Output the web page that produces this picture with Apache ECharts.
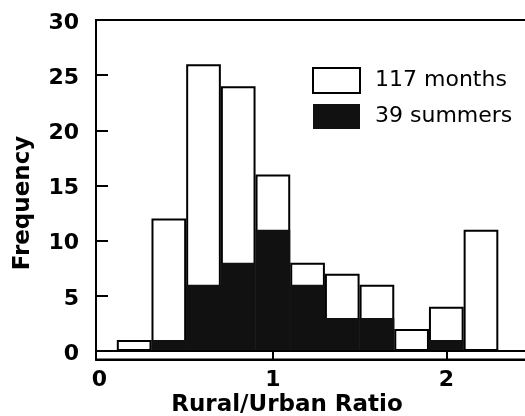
<!DOCTYPE html>
<html><head><meta charset="utf-8">
<script src="https://cdn.jsdelivr.net/npm/echarts@6/dist/echarts.min.js"></script>
<style>html,body{margin:0;padding:0;background:#fff}#c{width:525px;height:416px}</style>
</head><body><div id="c"></div>
<script>
// ---- data ----
const binCenters = [0.2, 0.4, 0.6, 0.8, 1.0, 1.2, 1.4, 1.6, 1.8, 2.0, 2.2];
const binWidth = 0.2;
const months = [1, 12, 26, 24, 16, 8, 7, 6, 2, 4, 11];
const summers = [0, 1, 6, 8, 11, 6, 3, 3, 0, 1, 0];
const seriesNames = ['117 months', '39 summers'];
const yLabelValues = [0, 5, 10, 15, 20, 25, 30];
const yTickValues = [5, 10, 15, 20, 25];
const xLabelValues = [0, 1, 2];
const xTickValues = [1, 2];
const xTitle = 'Rural/Urban Ratio';
const yTitle = 'Frequency';

const FONT = 'DejaVu Sans';
const chart = echarts.init(document.getElementById('c'), null, {renderer: 'canvas'});

function pairs(vals) { return binCenters.map((c, i) => [c, vals[i]]); }

function buildOption(barW) {
  return {
    animation: false,
    backgroundColor: '#fff',
    grid: {left: 96, top: 20, width: 437, height: 339.5, show: true,
           outerBoundsMode: 'none', containLabel: false,
           borderColor: '#000', borderWidth: 2, backgroundColor: 'transparent'},
    legend: {
      orient: 'vertical', left: 312, top: 67, padding: 0,
      itemWidth: 47, itemHeight: 25, itemGap: 10, icon: 'rect',
      textStyle: {fontFamily: FONT, fontSize: 22, color: '#000', padding: [0, 0, 0, 10]},
      data: [
        {name: seriesNames[0], itemStyle: {color: '#fff', borderColor: '#000', borderWidth: 2}},
        {name: seriesNames[1], itemStyle: {color: '#111', borderColor: '#111', borderWidth: 0}}
      ]
    },
    xAxis: {
      type: 'value', min: -0.02, max: 2.5,
      splitLine: {show: false},
      axisLine: {show: true, onZero: false, lineStyle: {color: '#000', width: 2}},
      axisTick: {show: true, inside: true, length: 8, customValues: xTickValues,
                 lineStyle: {color: '#000', width: 2}},
      axisLabel: {customValues: xLabelValues, fontFamily: FONT, fontWeight: 'bold',
                  fontSize: 22, color: '#000', margin: 10}
    },
    yAxis: {
      type: 'value', min: -0.77, max: 30,
      splitLine: {show: false},
      axisLine: {show: true, onZero: false, lineStyle: {color: '#000', width: 2}},
      axisTick: {show: true, inside: true, length: 12, customValues: yTickValues,
                 lineStyle: {color: '#000', width: 2}},
      axisLabel: {customValues: yLabelValues, color: '#000', margin: 17,
                  formatter: '{v|{value}}',
                  rich: {v: {fontFamily: FONT, fontWeight: 'bold', fontSize: 22,
                             color: '#000', padding: [6, 0, 0, 0]}}}
    },
    graphic: [
      {type: 'text', x: 287, y: 405, silent: true,
       style: {text: xTitle, fontFamily: FONT, fontWeight: 'bold', fontSize: 23,
               fill: '#000', align: 'center', verticalAlign: 'middle'}},
      {type: 'text', x: 23, y: 203, rotation: Math.PI / 2, silent: true,
       style: {text: yTitle, fontFamily: FONT, fontWeight: 'bold', fontSize: 23,
               fill: '#000', align: 'center', verticalAlign: 'middle'}}
    ],
    series: [
      {
        name: seriesNames[0], type: 'bar', data: pairs(months),
        barWidth: barW, barGap: '-100%',
        itemStyle: {color: '#fff', borderColor: '#000', borderWidth: 2},
        markLine: {silent: true, symbol: 'none', label: {show: false},
                   lineStyle: {color: '#000', width: 2, type: 'solid'},
                   data: [{yAxis: 0}]}
      },
      {
        name: seriesNames[1], type: 'bar', data: pairs(summers),
        barWidth: barW, barGap: '-100%',
        itemStyle: {color: '#111', borderColor: '#111', borderWidth: 0}
      }
    ]
  };
}

chart.setOption(buildOption(34));
const p0 = chart.convertToPixel({xAxisIndex: 0}, 0);
const p1 = chart.convertToPixel({xAxisIndex: 0}, binWidth);
chart.setOption(buildOption(p1 - p0));
</script>
</body></html>
